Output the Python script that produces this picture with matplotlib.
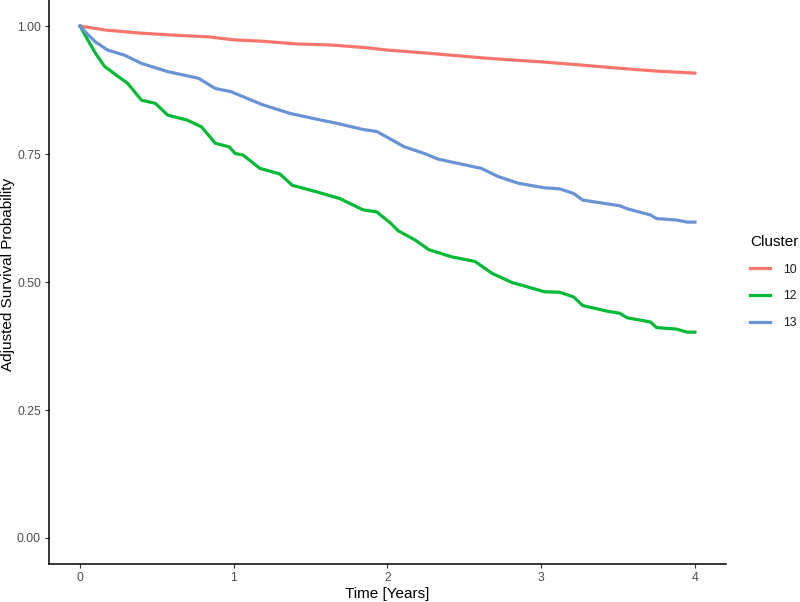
import matplotlib.pyplot as plt

plt.rcParams['font.family'] = ['Liberation Sans', 'DejaVu Sans']

# points (time in years, adjusted survival)
t10 = [0, 0.17, 0.40, 0.62, 0.83, 1.00, 1.20, 1.41, 1.63, 1.85, 2.00, 2.26, 2.65, 3.00, 3.21, 3.53, 3.75, 4.00]
s10 = [1.000, 0.992, 0.986, 0.982, 0.979, 0.973, 0.970, 0.965, 0.963, 0.958, 0.953, 0.947, 0.937, 0.930, 0.925, 0.917, 0.912, 0.908]

t12 = [0, 0.05, 0.10, 0.16, 0.25, 0.31, 0.40, 0.49, 0.57, 0.70, 0.79, 0.88, 0.97, 1.01, 1.06, 1.17, 1.30, 1.38,
       1.54, 1.69, 1.84, 1.93, 2.02, 2.07, 2.18, 2.27, 2.42, 2.57, 2.68, 2.81, 2.94, 3.02, 3.12, 3.21, 3.27,
       3.43, 3.51, 3.56, 3.71, 3.75, 3.88, 3.95, 4.00]
s12 = [1.000, 0.973, 0.947, 0.921, 0.901, 0.888, 0.855, 0.849, 0.826, 0.816, 0.803, 0.771, 0.764, 0.751, 0.748,
       0.722, 0.711, 0.689, 0.676, 0.663, 0.641, 0.637, 0.615, 0.600, 0.582, 0.563, 0.549, 0.540, 0.517, 0.499,
       0.488, 0.481, 0.480, 0.471, 0.454, 0.443, 0.439, 0.430, 0.422, 0.411, 0.408, 0.402, 0.402]

t13 = [0, 0.03, 0.10, 0.18, 0.29, 0.40, 0.57, 0.77, 0.88, 0.98, 1.06, 1.19, 1.37, 1.54, 1.67, 1.84, 1.93, 2.02, 2.11,
       2.24, 2.33, 2.50, 2.61, 2.72, 2.85, 3.02, 3.12, 3.21, 3.27, 3.51, 3.56, 3.71, 3.75, 3.88, 3.95, 4.00]
s13 = [1.000, 0.990, 0.969, 0.953, 0.943, 0.927, 0.911, 0.898, 0.878, 0.872, 0.862, 0.846, 0.829, 0.818, 0.810, 0.798,
       0.794, 0.779, 0.764, 0.751, 0.740, 0.729, 0.722, 0.706, 0.693, 0.684, 0.682, 0.673, 0.660, 0.649, 0.643,
       0.631, 0.624, 0.621, 0.617, 0.617]

clusters = ['10', '12', '13']
couleurs = {'10': '#F8766D', '12': '#00BA38', '13': '#6A93D6'}
series = {'10': (t10, s10), '12': (t12, s12), '13': (t13, s13)}

xticks = [0, 1, 2, 3, 4]
yticks = [0.00, 0.25, 0.50, 0.75, 1.00]

fig = plt.figure(figsize=(8, 6.02), dpi=100)
ax = fig.add_axes([0.0616, 0.0638, 0.8455, 0.9355])

for c in clusters:
    t, s = series[c]
    ax.plot(t, s, color=couleurs[c], lw=2.3, label=c)

ax.set_xlim(-0.2, 4.2)
ax.set_ylim(-0.05, 1.05)
ax.set_xticks(xticks)
ax.set_xticklabels([str(v) for v in xticks])
ax.set_yticks(yticks)
ax.set_yticklabels(['%.2f' % v for v in yticks])
ax.tick_params(colors='#333333', labelcolor='#4D4D4D', labelsize=8.8, length=3, width=0.8, pad=3)
for side in ['top', 'right']:
    ax.spines[side].set_visible(False)
for side in ['left', 'bottom']:
    ax.spines[side].set_linewidth(1.1)
    ax.spines[side].set_color('black')

ax.set_xlabel('Time [Years]', fontsize=11, labelpad=2)
fig.text(8.5 / 800, 1 - 274 / 602, 'Adjusted Survival Probability', rotation=90,
         ha='center', va='center', fontsize=11)

leg = ax.legend(title='Cluster', loc='center left', bbox_to_anchor=(1.02, 0.5), frameon=False,
                fontsize=8.8, title_fontsize=11, handlelength=1.6, handletextpad=1.1, labelspacing=1.2)
leg._legend_box.align = 'left'
for txt in leg.get_texts():
    txt.set_color('#1A1A1A')

plt.savefig('out.png', dpi=100)
